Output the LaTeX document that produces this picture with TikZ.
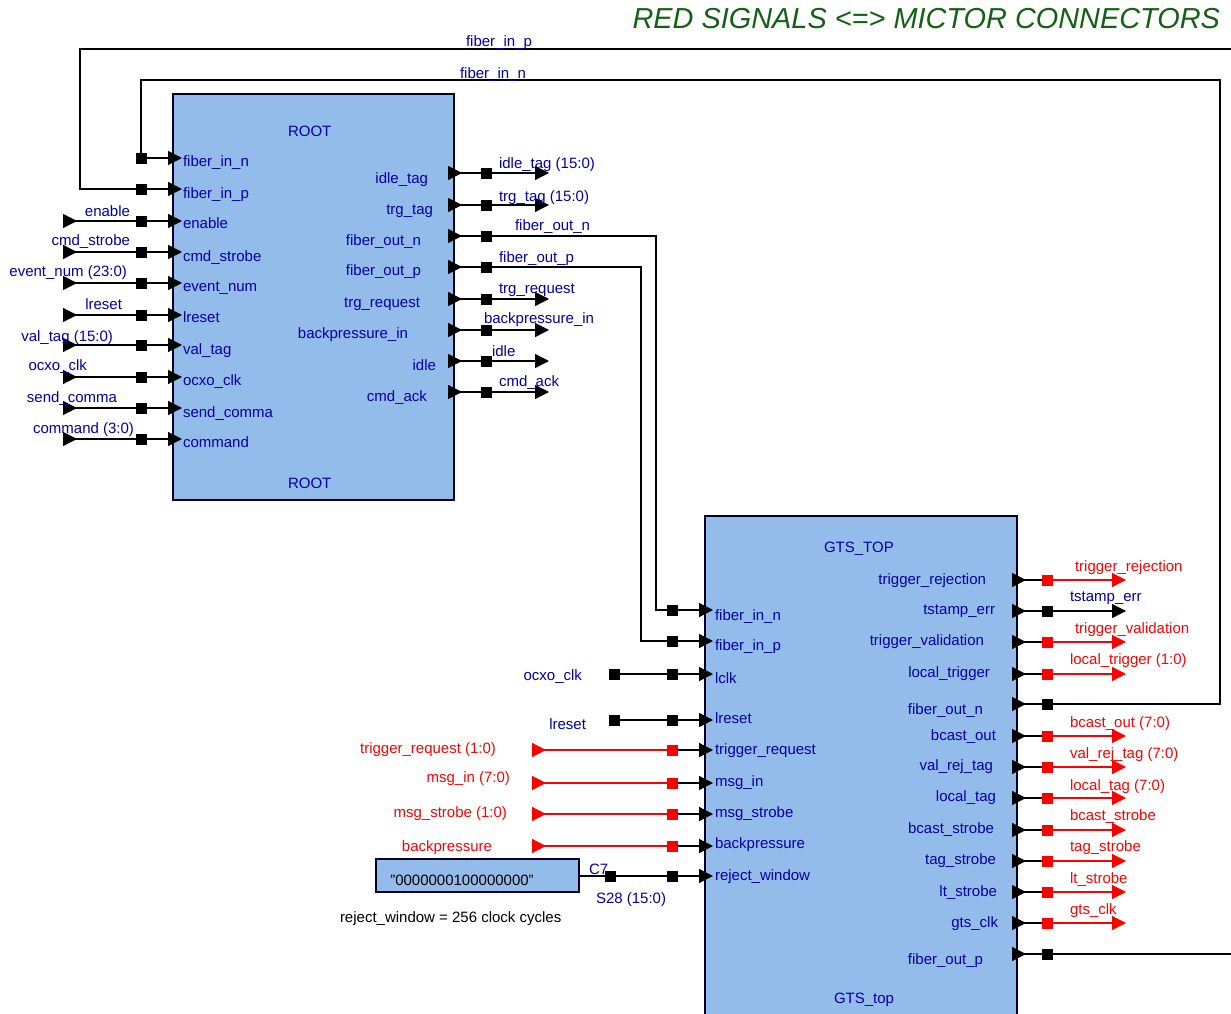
\documentclass[tikz,border=0pt]{standalone}
\usepackage{fontspec}
\setmainfont{Liberation Sans}
\usetikzlibrary{arrows.meta}
\definecolor{blockblue}{HTML}{94BCEA}
\definecolor{textblue}{HTML}{0000A8}
\definecolor{titlegreen}{HTML}{146014}
\tikzset{
  txt/.style={inner sep=0pt,outer sep=0pt,text height=12pt,text depth=2pt,font=\fontsize{15}{15}\selectfont},
  lblw/.style={txt,anchor=west,text=textblue},
  lble/.style={txt,anchor=east,text=textblue},
  redw/.style={txt,anchor=west,text=red},
  rede/.style={txt,anchor=east,text=red},
  pin/.style={fill=black,inner sep=0pt,outer sep=0pt,minimum size=11pt},
  redpin/.style={pin,fill=red},
  wire/.style={black,line width=1.3pt},
  redwire/.style={red,line width=1.3pt},
  intip/.style={wire,-{Triangle[length=14pt,width=14pt]}},
  redintip/.style={redwire,{Triangle[reversed,length=14pt,width=14pt]}-},
  outtip/.style={wire,{Triangle[reversed,length=14pt,width=14pt]}-},
  endtip/.style={wire,-{Triangle[length=14pt,width=14pt]}},
  redendtip/.style={redwire,-{Triangle[length=14pt,width=14pt]}},
  extin/.style={wire,{Triangle[reversed,length=14pt,width=14pt]}-},
  blockarea/.style={fill=blockblue,inner sep=0pt,outer sep=0pt,anchor=north west},
  blockline/.style={draw=black!85!blue,line width=1.3pt},
}
\begin{document}
\begin{tikzpicture}[x=1pt,y=-1pt]
  \useasboundingbox (0,0) rectangle (1231,1014);
  \node[txt,anchor=east,text=titlegreen,font=\fontsize{28.9}{29}\selectfont\itshape] at (1220,24) (title) {RED SIGNALS <=> MICTOR CONNECTORS};

  % ROOT block
  \node[blockarea,blockline,draw,minimum width=281pt,minimum height=406pt] at (173,94) (root) {};
  \node[lblw] at (288,132) (rootname) {ROOT};
  \node[lblw] at (288,483) (rootinst) {ROOT};

  % GTS block, runs off the page
  \node[blockarea,minimum width=312pt,minimum height=498pt] at (705,516) (gts) {};
  \draw[blockline] (gts.south west) -- (gts.north west) -- (gts.north east) -- (gts.south east);
  \node[lblw] at (824,547) (gtsname) {GTS\_TOP};
  \node[lblw] at (834,998) (gtsinst) {GTS\_top};

  % ROOT inputs
  \node[lblw] at (183,161) (rlfn) {fiber\_in\_n};
  \node[lblw] at (183,193) (rlfp) {fiber\_in\_p};
  \node[lblw] at (183,223) (rlen) {enable};
  \node[lblw] at (183,256) (rlcs) {cmd\_strobe};
  \node[lblw] at (183,286) (rlev) {event\_num};
  \node[lblw] at (183,317) (rlrs) {lreset};
  \node[lblw] at (183,349) (rlvt) {val\_tag};
  \node[lblw] at (183,380) (rloc) {ocxo\_clk};
  \node[lblw] at (183,412) (rlsc) {send\_comma};
  \node[lblw] at (183,442) (rlcm) {command};

  \node[pin] at (141,158) (rpfn) {};
  \node[pin] at (141,189) (rpfp) {};
  \node[pin] at (141,221) (rpen) {};
  \node[pin] at (141,252) (rpcs) {};
  \node[pin] at (141,283) (rpev) {};
  \node[pin] at (141,315) (rprs) {};
  \node[pin] at (141,345) (rpvt) {};
  \node[pin] at (141,377) (rpoc) {};
  \node[pin] at (141,408) (rpsc) {};
  \node[pin] at (141,439) (rpcm) {};

  \coordinate (rifn) at (182,158);
  \coordinate (rifp) at (182,189);
  \coordinate (rien) at (182,221);
  \coordinate (rics) at (182,252);
  \coordinate (riev) at (182,283);
  \coordinate (rirs) at (182,315);
  \coordinate (rivt) at (182,345);
  \coordinate (rioc) at (182,377);
  \coordinate (risc) at (182,408);
  \coordinate (ricm) at (182,439);
  \draw[intip] (rpfn) -- (rifn);
  \draw[intip] (rpfp) -- (rifp);
  \draw[intip] (rpen) -- (rien);
  \draw[intip] (rpcs) -- (rics);
  \draw[intip] (rpev) -- (riev);
  \draw[intip] (rprs) -- (rirs);
  \draw[intip] (rpvt) -- (rivt);
  \draw[intip] (rpoc) -- (rioc);
  \draw[intip] (rpsc) -- (risc);
  \draw[intip] (rpcm) -- (ricm);

  \coordinate (xien) at (63,221);
  \coordinate (xics) at (63,252);
  \coordinate (xiev) at (63,283);
  \coordinate (xirs) at (63,315);
  \coordinate (xivt) at (63,345);
  \coordinate (xioc) at (63,377);
  \coordinate (xisc) at (63,408);
  \coordinate (xicm) at (63,439);
  \draw[extin] (xien) -- (rpen);
  \draw[extin] (xics) -- (rpcs);
  \draw[extin] (xiev) -- (rpev);
  \draw[extin] (xirs) -- (rprs);
  \draw[extin] (xivt) -- (rpvt);
  \draw[extin] (xioc) -- (rpoc);
  \draw[extin] (xisc) -- (rpsc);
  \draw[extin] (xicm) -- (rpcm);

  \node[lble] at (130,211) (xlen) {enable};
  \node[lble] at (130,240) (xlcs) {cmd\_strobe};
  \node[lble] at (127,271) (xlev) {event\_num (23:0)};
  \node[lble] at (122,304) (xlrs) {lreset};
  \node[lble] at (113,336) (xlvt) {val\_tag (15:0)};
  \node[lble] at (87,365) (xloc) {ocxo\_clk};
  \node[lble] at (117,397) (xlsc) {send\_comma};
  \node[lble] at (134,428) (xlcm) {command (3:0)};

  % ROOT outputs
  \node[lble] at (428,178) (rrit) {idle\_tag};
  \node[lble] at (433,209) (rrtt) {trg\_tag};
  \node[lble] at (421,240) (rrfn) {fiber\_out\_n};
  \node[lble] at (421,270) (rrfp) {fiber\_out\_p};
  \node[lble] at (420,302) (rrtr) {trg\_request};
  \node[lble] at (408,333) (rrbp) {backpressure\_in};
  \node[lble] at (436,365) (rrid) {idle};
  \node[lble] at (427,396) (rrca) {cmd\_ack};

  \node[pin] at (486,173) (opit) {};
  \node[pin] at (486,205) (optt) {};
  \node[pin] at (486,236) (opfn) {};
  \node[pin] at (486,267) (opfp) {};
  \node[pin] at (486,299) (optr) {};
  \node[pin] at (486,330) (opbp) {};
  \node[pin] at (486,361) (opid) {};
  \node[pin] at (486,392) (opca) {};

  \coordinate (ooit) at (448,173);
  \coordinate (oott) at (448,205);
  \coordinate (oofn) at (448,236);
  \coordinate (oofp) at (448,267);
  \coordinate (ootr) at (448,299);
  \coordinate (oobp) at (448,330);
  \coordinate (ooid) at (448,361);
  \coordinate (ooca) at (448,392);
  \draw[outtip] (ooit) -- (opit);
  \draw[outtip] (oott) -- (optt);
  \draw[outtip] (oofn) -- (opfn);
  \draw[outtip] (oofp) -- (opfp);
  \draw[outtip] (ootr) -- (optr);
  \draw[outtip] (oobp) -- (opbp);
  \draw[outtip] (ooid) -- (opid);
  \draw[outtip] (ooca) -- (opca);

  \coordinate (oeit) at (549,173);
  \coordinate (oett) at (549,205);
  \coordinate (oetr) at (549,299);
  \coordinate (oebp) at (549,330);
  \coordinate (oeid) at (549,361);
  \coordinate (oeca) at (549,392);
  \draw[endtip] (opit) -- (oeit);
  \draw[endtip] (optt) -- (oett);
  \draw[endtip] (optr) -- (oetr);
  \draw[endtip] (opbp) -- (oebp);
  \draw[endtip] (opid) -- (oeid);
  \draw[endtip] (opca) -- (oeca);

  \node[lblw] at (499,163) (olit) {idle\_tag (15:0)};
  \node[lblw] at (499,196) (oltt) {trg\_tag (15:0)};
  \node[lblw] at (515,225) (olfn) {fiber\_out\_n};
  \node[lblw] at (499,257) (olfp) {fiber\_out\_p};
  \node[lblw] at (499,288) (oltr) {trg\_request};
  \node[lblw] at (484,318) (olbp) {backpressure\_in};
  \node[lblw] at (492,351) (olid) {idle};
  \node[lblw] at (499,381) (olca) {cmd\_ack};

  % GTS inputs
  \node[lblw] at (715,615) (glfn) {fiber\_in\_n};
  \node[lblw] at (715,645) (glfp) {fiber\_in\_p};
  \node[lblw] at (715,678) (glck) {lclk};
  \node[lblw] at (715,718) (glrs) {lreset};
  \node[lblw] at (715,749) (gltr) {trigger\_request};
  \node[lblw] at (715,781) (glmi) {msg\_in};
  \node[lblw] at (715,812) (glms) {msg\_strobe};
  \node[lblw] at (715,843) (glbp) {backpressure};
  \node[lblw] at (715,875) (glrw) {reject\_window};

  \node[pin] at (672,610) (gpfn) {};
  \node[pin] at (672,641) (gpfp) {};
  \node[pin] at (672,674) (gpck) {};
  \node[pin] at (672,720) (gprs) {};
  \node[redpin] at (672,750) (gptr) {};
  \node[redpin] at (672,783) (gpmi) {};
  \node[redpin] at (672,814) (gpms) {};
  \node[redpin] at (672,846) (gpbp) {};
  \node[pin] at (672,876) (gprw) {};

  \coordinate (gifn) at (713,610);
  \coordinate (gifp) at (713,641);
  \coordinate (gick) at (713,674);
  \coordinate (girs) at (713,720);
  \coordinate (gitr) at (713,750);
  \coordinate (gimi) at (713,783);
  \coordinate (gims) at (713,814);
  \coordinate (gibp) at (713,846);
  \coordinate (girw) at (713,876);
  \draw[intip] (gpfn) -- (gifn);
  \draw[intip] (gpfp) -- (gifp);
  \draw[intip] (gpck) -- (gick);
  \draw[intip] (gprs) -- (girs);
  \draw[intip] (gptr) -- (gitr);
  \draw[intip] (gpmi) -- (gimi);
  \draw[intip] (gpms) -- (gims);
  \draw[intip] (gpbp) -- (gibp);
  \draw[intip] (gprw) -- (girw);

  \node[pin] at (614,674) (xpck) {};
  \node[pin] at (614,720) (xprs) {};
  \draw[wire] (xpck) -- (gpck);
  \draw[wire] (xprs) -- (gprs);
  \node[lble] at (582,675) (xlck) {ocxo\_clk};
  \node[lble] at (586,724) (xlgr) {lreset};

  \coordinate (xitr) at (532,750);
  \coordinate (ximi) at (532,783);
  \coordinate (xims) at (532,814);
  \coordinate (xibp) at (532,846);
  \draw[redintip] (xitr) -- (gptr);
  \draw[redintip] (ximi) -- (gpmi);
  \draw[redintip] (xims) -- (gpms);
  \draw[redintip] (xibp) -- (gpbp);
  \node[rede] at (496,748) (xltr) {trigger\_request (1:0)};
  \node[rede] at (510,777) (xlmi) {msg\_in (7:0)};
  \node[rede] at (507,812) (xlms) {msg\_strobe (1:0)};
  \node[rede] at (492,846) (xlbp) {backpressure};

  % constant driving reject_window
  \node[blockarea,blockline,draw,minimum width=203pt,minimum height=33pt] at (376,859) (const) {};
  \node[txt] at (462,880) (constval) {"0000000100000000"};
  \node[pin] at (610,876) (cpin) {};
  \draw[wire] (const.east |- cpin) -- (cpin);
  \draw[wire] (cpin) -- (gprw);
  \node[lblw] at (589,869) (cname) {C7};
  \node[lblw] at (596,898) (cbus) {S28 (15:0)};
  \node[txt,anchor=west] at (340,917) (cnote) {reject\_window = 256 clock cycles};

  % GTS outputs
  \node[lble] at (986,579) (grtr) {trigger\_rejection};
  \node[lble] at (995,609) (grte) {tstamp\_err};
  \node[lble] at (984,640) (grtv) {trigger\_validation};
  \node[lble] at (990,672) (grlt) {local\_trigger};
  \node[lble] at (983,709) (grfn) {fiber\_out\_n};
  \node[lble] at (996,735) (grbo) {bcast\_out};
  \node[lble] at (993,765) (grvr) {val\_rej\_tag};
  \node[lble] at (996,796) (grlg) {local\_tag};
  \node[lble] at (994,828) (grbs) {bcast\_strobe};
  \node[lble] at (996,859) (grts) {tag\_strobe};
  \node[lble] at (997,891) (grls) {lt\_strobe};
  \node[lble] at (998,922) (grgc) {gts\_clk};
  \node[lble] at (983,959) (grfp) {fiber\_out\_p};

  \node[redpin] at (1047,580) (hptr) {};
  \node[pin] at (1047,611) (hpte) {};
  \node[redpin] at (1047,642) (hptv) {};
  \node[redpin] at (1047,674) (hplt) {};
  \node[pin] at (1047,704) (hpfn) {};
  \node[redpin] at (1047,736) (hpbo) {};
  \node[redpin] at (1047,767) (hpvr) {};
  \node[redpin] at (1047,798) (hplg) {};
  \node[redpin] at (1047,830) (hpbs) {};
  \node[redpin] at (1047,861) (hpts) {};
  \node[redpin] at (1047,892) (hpls) {};
  \node[redpin] at (1047,923) (hpgc) {};
  \node[pin] at (1047,954) (hpfp) {};

  \coordinate (hotr) at (1012,580);
  \coordinate (hote) at (1012,611);
  \coordinate (hotv) at (1012,642);
  \coordinate (holt) at (1012,674);
  \coordinate (hofn) at (1012,704);
  \coordinate (hobo) at (1012,736);
  \coordinate (hovr) at (1012,767);
  \coordinate (holg) at (1012,798);
  \coordinate (hobs) at (1012,830);
  \coordinate (hots) at (1012,861);
  \coordinate (hols) at (1012,892);
  \coordinate (hogc) at (1012,923);
  \coordinate (hofp) at (1012,954);
  \draw[outtip] (hotr) -- (hptr);
  \draw[outtip] (hote) -- (hpte);
  \draw[outtip] (hotv) -- (hptv);
  \draw[outtip] (holt) -- (hplt);
  \draw[outtip] (hofn) -- (hpfn);
  \draw[outtip] (hobo) -- (hpbo);
  \draw[outtip] (hovr) -- (hpvr);
  \draw[outtip] (holg) -- (hplg);
  \draw[outtip] (hobs) -- (hpbs);
  \draw[outtip] (hots) -- (hpts);
  \draw[outtip] (hols) -- (hpls);
  \draw[outtip] (hogc) -- (hpgc);
  \draw[outtip] (hofp) -- (hpfp);

  \coordinate (hetr) at (1126,580);
  \coordinate (hete) at (1126,611);
  \coordinate (hetv) at (1126,642);
  \coordinate (helt) at (1126,674);
  \coordinate (hebo) at (1126,736);
  \coordinate (hevr) at (1126,767);
  \coordinate (helg) at (1126,798);
  \coordinate (hebs) at (1126,830);
  \coordinate (hets) at (1126,861);
  \coordinate (hels) at (1126,892);
  \coordinate (hegc) at (1126,923);
  \draw[redendtip] (hptr) -- (hetr);
  \draw[endtip] (hpte) -- (hete);
  \draw[redendtip] (hptv) -- (hetv);
  \draw[redendtip] (hplt) -- (helt);
  \draw[redendtip] (hpbo) -- (hebo);
  \draw[redendtip] (hpvr) -- (hevr);
  \draw[redendtip] (hplg) -- (helg);
  \draw[redendtip] (hpbs) -- (hebs);
  \draw[redendtip] (hpts) -- (hets);
  \draw[redendtip] (hpls) -- (hels);
  \draw[redendtip] (hpgc) -- (hegc);

  \node[redw] at (1075,566) (hltr) {trigger\_rejection};
  \node[lblw] at (1070,596) (hlte) {tstamp\_err};
  \node[redw] at (1075,628) (hltv) {trigger\_validation};
  \node[redw] at (1070,659) (hllt) {local\_trigger (1:0)};
  \node[redw] at (1070,722) (hlbo) {bcast\_out (7:0)};
  \node[redw] at (1070,753) (hlvr) {val\_rej\_tag (7:0)};
  \node[redw] at (1070,785) (hllg) {local\_tag (7:0)};
  \node[redw] at (1070,815) (hlbs) {bcast\_strobe};
  \node[redw] at (1070,846) (hlts) {tag\_strobe};
  \node[redw] at (1070,878) (hlls) {lt\_strobe};
  \node[redw] at (1070,909) (hlgc) {gts\_clk};

  % long fiber runs
  \coordinate (fpa) at (80,189);
  \coordinate (fpb) at (80,49);
  \coordinate (fpc) at (1231,49);
  \draw[wire] (rpfp) -- (fpa) -- (fpb) -- (fpc);
  \coordinate (fna) at (141,80);
  \coordinate (fnb) at (1220,80);
  \coordinate (fnc) at (1220,704);
  \draw[wire] (rpfn) -- (fna) -- (fnb) -- (fnc) -- (hpfn);
  \node[lblw] at (466,42) (fplbl) {fiber\_in\_p};
  \node[lblw] at (460,74) (fnlbl) {fiber\_in\_n};

  \coordinate (ofna) at (656,236);
  \coordinate (ofnb) at (656,610);
  \draw[wire] (opfn) -- (ofna) -- (ofnb) -- (gpfn);
  \coordinate (ofpa) at (641,267);
  \coordinate (ofpb) at (641,641);
  \draw[wire] (opfp) -- (ofpa) -- (ofpb) -- (gpfp);
  \coordinate (hend) at (1231,954);
  \draw[wire] (hpfp) -- (hend);
\end{tikzpicture}
\end{document}
